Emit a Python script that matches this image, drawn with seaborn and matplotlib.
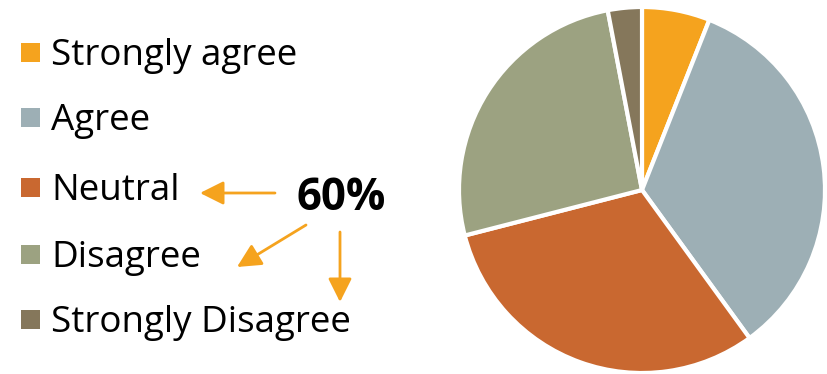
import matplotlib
matplotlib.use("Agg")
import matplotlib.pyplot as plt
import seaborn as sns
from matplotlib.patches import Rectangle

sns.set_theme(style="white")
plt.rcParams["font.family"] = ["Open Sans", "DejaVu Sans"]

# Survey responses (percent)
categories = ["Strongly agree", "Agree", "Neutral", "Disagree", "Strongly Disagree"]
shares = [6, 34, 31, 26, 3]
colors = ["#F5A31E", "#9DAFB5", "#C96830", "#9CA281", "#85775B"]
callout = "60%"

palette = sns.color_palette(colors)

W, H = 828, 374
fig = plt.figure(figsize=(W / 100, H / 100), dpi=100)

# Pie axes: centre (642, 190) px, radius 183 px
cx, cy, r = 642, 190, 183
ax = fig.add_axes([(cx - r) / W, (H - cy - r) / H, 2 * r / W, 2 * r / H])
wedges, _ = ax.pie(
    shares,
    colors=palette,
    startangle=90,
    counterclock=False,
    wedgeprops=dict(edgecolor="white", linewidth=3),
)
ax.set_xlim(-1, 1)
ax.set_ylim(-1, 1)
ax.set_aspect("equal")
ax.axis("off")

# Overlay in pixel coordinates for the legend and callout
ov = fig.add_axes([0, 0, 1, 1])
ov.set_xlim(0, W)
ov.set_ylim(H, 0)
ov.axis("off")

baselines = [65, 130, 200, 267, 332]
for name, col, yb in zip(categories, palette, baselines):
    ov.add_patch(Rectangle((21, yb - 22), 19, 19, facecolor=col, edgecolor="none"))
    ov.text(51, yb, name, fontsize=26.5, va="baseline", ha="left", color="black")

ov.text(341, 210, callout, fontsize=31.5, fontweight="bold", va="baseline", ha="center", color="black")

arrow_kw = dict(arrowstyle="-|>,head_length=0.6,head_width=0.3", color="#F5A31E", lw=2,
                mutation_scale=24, shrinkA=0, shrinkB=0)
ov.annotate("", xy=(200, 193), xytext=(275, 193), arrowprops=arrow_kw)
ov.annotate("", xy=(237, 267), xytext=(306, 225), arrowprops=arrow_kw)
ov.annotate("", xy=(340, 302), xytext=(340, 232), arrowprops=arrow_kw)

fig.savefig("out.png", dpi=100, facecolor="white")
